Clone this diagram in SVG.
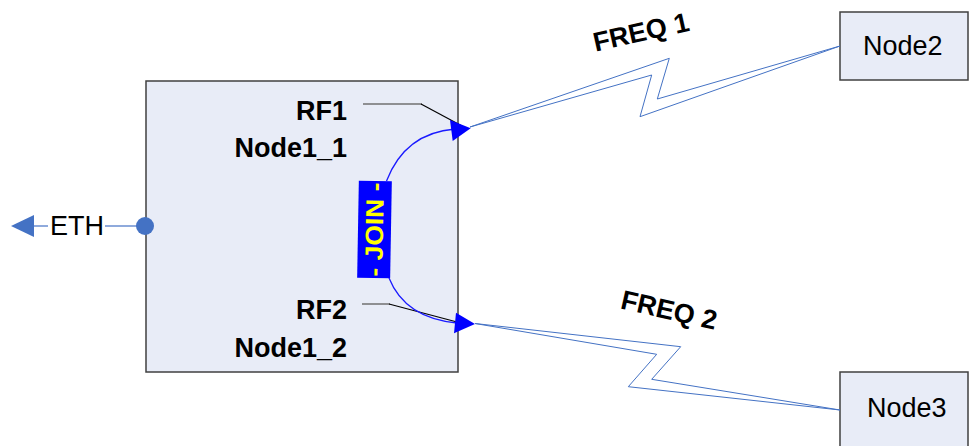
<svg xmlns="http://www.w3.org/2000/svg" width="974" height="446" viewBox="0 0 974 446">
  <style>
    .box { fill: #e8ecf7; stroke: #404040; stroke-width: 1.5; }
    .lbl { font-family: "Liberation Sans", Arial, sans-serif; font-size: 27px; fill: #000; }
    .bold { font-weight: bold; }
    .port { fill: #0000ff; stroke: none; }
    .arc { fill: none; stroke: #1a1aff; stroke-width: 1.3; }
    .lead-h { fill: none; stroke: #707070; stroke-width: 1.5; }
    .lead-d { fill: none; stroke: #000; stroke-width: 1.2; }
    .bolt { fill: none; stroke: #4472c4; stroke-width: 1; }
    .eth-line { fill: none; stroke: #8faadc; stroke-width: 2; }
    .eth-mark { fill: #4472c4; stroke: none; }
  </style>

  <!-- main node -->
  <g id="node1">
    <rect class="box" x="146" y="81" width="312" height="291"/>
    <text class="lbl bold" x="347" y="120" text-anchor="end">RF1</text>
    <text class="lbl bold" x="347" y="157" text-anchor="end">Node1_1</text>
    <text class="lbl bold" x="347" y="319" text-anchor="end">RF2</text>
    <text class="lbl bold" x="347" y="357" text-anchor="end">Node1_2</text>
  </g>

  <!-- join tag -->
  <g id="join" transform="rotate(1 374 229)">
    <rect x="358" y="181" width="33" height="97" fill="#0000ff"/>
    <text x="0" y="0" transform="translate(383 229.5) rotate(-90)" text-anchor="middle"
          font-family="'Liberation Sans', Arial, sans-serif" font-size="25" font-weight="bold"
          fill="#ffff00" textLength="94" lengthAdjust="spacingAndGlyphs">- JOIN -</text>
  </g>

  <g id="node2">
    <rect class="box" x="840" y="12" width="128" height="68"/>
    <text class="lbl" x="863" y="55">Node2</text>
  </g>

  <g id="node3">
    <rect class="box" x="840" y="372" width="128" height="80"/>
    <text class="lbl" x="867" y="417">Node3</text>
  </g>

  <g id="eth">
    <text class="lbl" x="50" y="235">ETH</text>
  </g>

  <g id="connectors">
    <!-- Ethernet link -->
    <line class="eth-line" x1="33" y1="226" x2="48" y2="226"/>
    <line class="eth-line" x1="105" y1="226" x2="140" y2="226"/>
    <polygon class="eth-mark" points="11,226 34,215 34,237"/>
    <circle class="eth-mark" cx="145" cy="226" r="9"/>

    <!-- label leaders -->
    <polyline class="lead-h" points="363,104 422,104"/>
    <polyline class="lead-d" points="421,104 462,126"/>
    <polyline class="lead-h" points="362,304 390,304"/>
    <polyline class="lead-d" points="389,304 457,322"/>

    <!-- join arcs -->
    <path class="arc" d="M386.5,181 Q405,133 455,129"/>
    <path class="arc" d="M389,278 Q405,318 457,323"/>

    <!-- radio links -->
    <polygon class="bolt" points="470,127 669.3,58.3 657.3,99 840,46 640,116.7 651.7,75"/>
    <polygon class="bolt" points="475,323.5 680.7,346.7 651.7,379.3 840,410 628.3,386.7 656.7,354.3"/>

    <!-- port arrowheads -->
    <polygon class="port" points="450,120 470.7,128.3 452.7,141"/>
    <polygon class="port" points="456,312.7 475,324 454,333.3"/>

    <text class="lbl bold" x="643" y="41" text-anchor="middle" transform="rotate(-12.6 643 41)">FREQ 1</text>
    <text class="lbl bold" x="667" y="319" text-anchor="middle" transform="rotate(12.8 667 319)">FREQ 2</text>
  </g>
</svg>
